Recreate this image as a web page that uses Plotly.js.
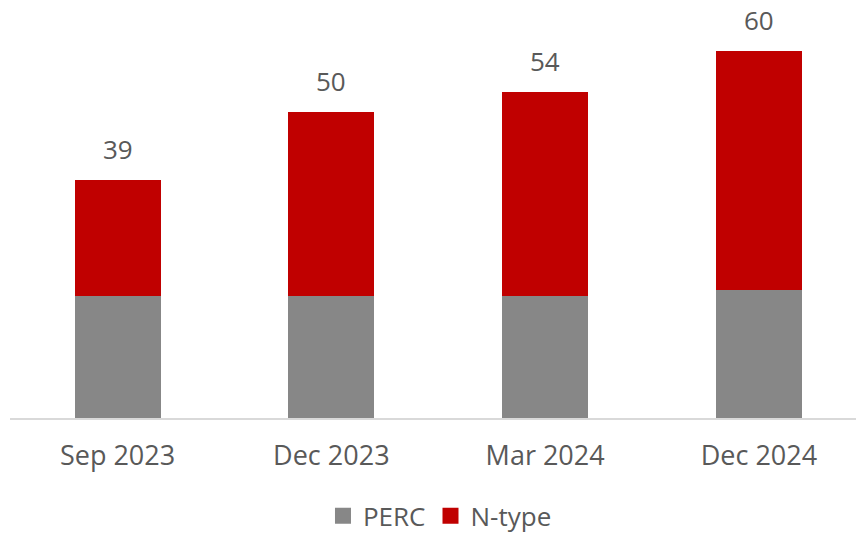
<!DOCTYPE html>
<html>
<head>
<meta charset="utf-8">
<script src="https://cdn.plot.ly/plotly-3.0.1.min.js"></script>
<style>html,body{margin:0;padding:0;background:#fff;}#chart{width:856px;height:534px;}</style>
</head>
<body>
<div id="chart"></div>
<script>
var categories = ["Sep 2023", "Dec 2023", "Mar 2024", "Dec 2024"];
var percValues = [20, 20, 20, 20.9];
var ntypeValues = [19, 30, 33.4, 39.1];
var totalLabels = ["39", "50", "54", "60"];

var GREY = "#878787", RED = "#C00000", TEXT = "#595959";
var FONT = "Open Sans, sans-serif";

var totals = categories.map(function (c, i) { return percValues[i] + ntypeValues[i]; });

var traces = [
  {type: "bar", x: categories, y: percValues, name: "PERC", marker: {color: GREY}, showlegend: false, hoverinfo: "skip"},
  {type: "bar", x: categories, y: ntypeValues, name: "N-type", marker: {color: RED}, showlegend: false, hoverinfo: "skip"},
  {type: "scatter", mode: "markers", x: [null], y: [null], name: "PERC", marker: {symbol: "square", size: 16, color: GREY}},
  {type: "scatter", mode: "markers", x: [null], y: [null], name: "N-type", marker: {symbol: "square", size: 16, color: RED}}
];

var annotations = categories.map(function (c, i) {
  return {x: c, y: totals[i], xref: "x", yref: "y", text: totalLabels[i], showarrow: false,
    yanchor: "bottom", yshift: 11, font: {family: FONT, size: 26, color: TEXT}};
});

var layout = {
  width: 856, height: 534,
  margin: {l: 10, r: 0, t: 0, b: 116},
  paper_bgcolor: "#fff", plot_bgcolor: "#fff",
  barmode: "stack", bargap: 0.598,
  font: {family: FONT, color: TEXT},
  xaxis: {type: "category", categoryarray: categories, range: [-0.503, 3.454], automargin: false,
    showline: true, linecolor: "#D9D9D9", linewidth: 1.5, ticks: "", showgrid: false, zeroline: false,
    tickfont: {family: FONT, size: 27, color: TEXT}, ticklabelstandoff: 13},
  yaxis: {range: [0, 68.4], visible: false, showgrid: false, zeroline: false, automargin: false},
  showlegend: true,
  legend: {orientation: "h", traceorder: "normal", xref: "container", x: 0.514, xanchor: "center",
    yref: "container", y: 0.034, yanchor: "middle",
    font: {family: FONT, size: 26, color: TEXT}, bgcolor: "rgba(0,0,0,0)"},
  annotations: annotations
};

Plotly.newPlot("chart", traces, layout, {staticPlot: true, displayModeBar: false});
</script>
</body>
</html>
